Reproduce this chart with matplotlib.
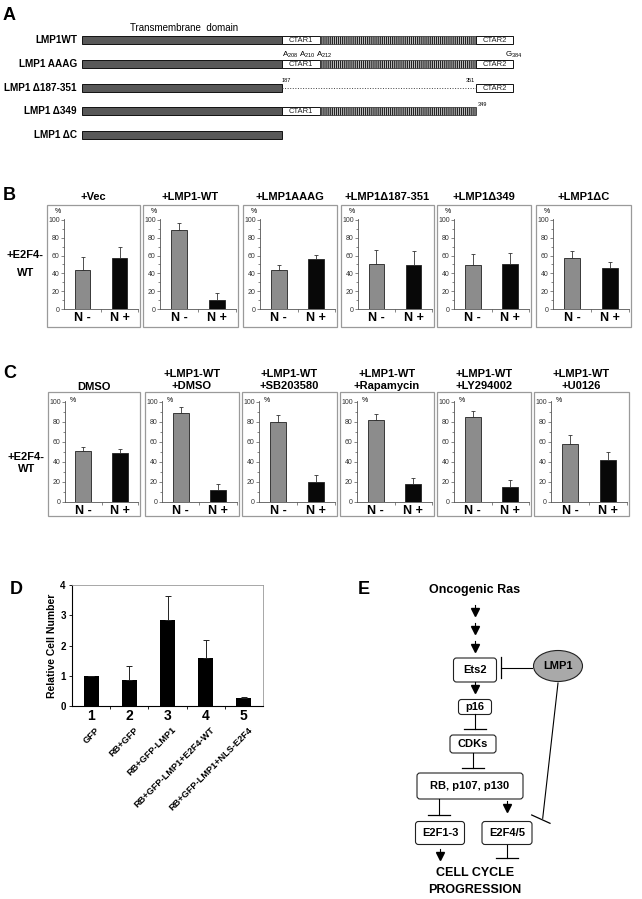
import numpy as np
import matplotlib.pyplot as plt
from matplotlib.patches import Rectangle, FancyBboxPatch, Ellipse

plt.rcParams['font.family'] = ['Liberation Sans', 'DejaVu Sans']
plt.rcParams['mathtext.default'] = 'regular'
plt.rcParams['hatch.linewidth'] = 1.0

W, H = 642, 899

#%% DATA
# panel A : constructs and their domains (schematic units from start of bar)
constructs = ['LMP1WT', 'LMP1 AAAG', 'LMP1 \u0394187-351', 'LMP1 \u0394349', 'LMP1 \u0394C']
full = [(0, 200, 'tm'), (200, 238, 'CTAR1'), (238, 394, 'hatch'), (394, 431, 'CTAR2')]
domains = [
    full,
    full,
    [(0, 200, 'tm'), (200, 394, 'gap'), (394, 431, 'CTAR2')],
    [(0, 200, 'tm'), (200, 238, 'CTAR1'), (238, 394, 'hatch')],
    [(0, 200, 'tm')],
]
mut_labels = ['A$_{208}$', 'A$_{210}$', 'A$_{212}$', 'G$_{384}$']

# panel B : % cells, N- / N+
b_titles = ['+Vec', '+LMP1-WT', '+LMP1AAAG', '+LMP1\u0394187-351', '+LMP1\u0394349', '+LMP1\u0394C']
b_vals = [[44, 57], [89, 10], [44, 56], [51, 49], [49, 50], [57, 46]]
b_errs = [[14, 13], [8, 8], [5, 5], [15, 16], [13, 13], [8, 7]]

# panel C
c_titles = ['DMSO', '+LMP1-WT\n+DMSO', '+LMP1-WT\n+SB203580', '+LMP1-WT\n+Rapamycin',
            '+LMP1-WT\n+LY294002', '+LMP1-WT\n+U0126']
c_vals = [[51, 49], [89, 12], [80, 20], [82, 18], [85, 15], [58, 42]]
c_errs = [[4, 4], [6, 6], [7, 7], [6, 6], [6, 7], [9, 8]]

groups = ['N -', 'N +']

# panel D
d_num = ['1', '2', '3', '4', '5']
d_names = ['GFP', 'RB+GFP', 'RB+GFP-LMP1', 'RB+GFP-LMP1+E2F4-WT', 'RB+GFP-LMP1+NLS-E2F4']
d_vals = [1.0, 0.85, 2.85, 1.6, 0.25]
d_errs = [0, 0.48, 0.8, 0.57, 0.05]


def rect(x0, y0, x1, y1):
    return [x0 / W, 1 - y1 / H, (x1 - x0) / W, (y1 - y0) / H]


fig = plt.figure(figsize=(W / 100, H / 100), dpi=100)
ov = fig.add_axes([0, 0, 1, 1])
ov.set_xlim(0, W)
ov.set_ylim(H, 0)
ov.axis('off')

#%% PANEL A
ov.text(3, 15, 'A', fontsize=13, fontweight='bold', va='center')
ov.text(130, 28, 'Transmembrane  domain', fontsize=7, va='center')
x0 = 82
for i, (name, segs) in enumerate(zip(constructs, domains)):
    y = 40 + 23.8 * i
    ov.text(77, y, name, ha='right', va='center', fontsize=7.2, fontweight='bold')
    for s, e, kind in segs:
        if kind == 'tm':
            ov.add_patch(Rectangle((x0 + s, y - 4), e - s, 8, fc='#585858', ec='#111', lw=0.7))
        elif kind == 'hatch':
            ov.add_patch(Rectangle((x0 + s, y - 4), e - s, 8, fc='white', ec='#222',
                                   lw=0.5, hatch='||||||||'))
        elif kind == 'gap':
            ov.plot([x0 + s, x0 + e], [y, y], ls=':', lw=0.7, color='#444')
        else:
            ov.add_patch(Rectangle((x0 + s, y - 4), e - s, 8, fc='white', ec='#111', lw=0.7))
            ov.text(x0 + (s + e) / 2, y + 0.5, kind, ha='center', va='center', fontsize=5.5,
                    color='#222')
# point mutations and deletion ends
for xm, lab in zip([282, 299, 316, 505], mut_labels):
    ov.text(xm, 57, lab, fontsize=5.8, va='baseline')
ov.text(282, 82, '187', fontsize=4, va='baseline')
ov.text(466, 82, '351', fontsize=4, va='baseline')
ov.text(478, 106, '349', fontsize=4, va='baseline')


#%% PANELS B, C
def bar_panel(box, ax_rect, title, title_y, vals, errs, pct_inside):
    bx0, by0, bx1, by1 = box
    ov.add_patch(Rectangle((bx0, by0), bx1 - bx0, by1 - by0, fill=False, ec='#9a9a9a', lw=0.9))
    ov.text((bx0 + bx1) / 2, title_y, title, ha='center', va='center', fontsize=8,
            fontweight='bold', linespacing=1.3)
    ax = fig.add_axes(rect(*ax_rect))
    ax.patch.set_alpha(0)
    ax.bar([0, 1], vals, width=0.43, color=['#8c8c8c', '#080808'], edgecolor='#222', lw=0.6,
           yerr=[[0, 0], errs], error_kw=dict(ecolor='#333', elinewidth=0.6, capsize=1.5,
                                              capthick=0.6))
    ax.set_xlim(-0.5, 1.5)
    ax.set_ylim(0, 101)
    ax.set_yticks(range(0, 101, 20))
    ax.set_yticks(range(10, 100, 20), minor=True)
    ax.set_xticks([0, 1], groups)
    ax.set_xticks([0.5, 1.5], minor=True)
    for t in ax.get_xticklabels():
        t.set_fontweight('bold')
    ax.tick_params(axis='x', which='major', length=0, labelsize=9, pad=2.5)
    ax.tick_params(axis='x', which='minor', length=2, width=0.5, color='#555')
    ax.tick_params(axis='y', which='both', length=2, width=0.5, color='#555', labelsize=5,
                   labelcolor='#333', pad=1)
    ax.tick_params(axis='y', which='minor', length=1.5)
    for sp in ['top', 'right']:
        ax.spines[sp].set_visible(False)
    for sp in ['left', 'bottom']:
        ax.spines[sp].set_color('#555')
        ax.spines[sp].set_linewidth(0.6)
    if pct_inside:
        ax.text(0.06, 1.0, '%', transform=ax.transAxes, fontsize=5, va='center')
    else:
        ax.text(-0.12, 1.08, '%', transform=ax.transAxes, fontsize=5, va='center')
    return ax


ov.text(3, 196, 'B', fontsize=13, fontweight='bold', va='center')
ov.text(25, 255, '+E2F4-', fontsize=8, fontweight='bold', ha='center', va='center')
ov.text(26, 273, 'WT', fontsize=8, fontweight='bold', ha='center', va='center')
b_left = [47, 143, 243, 341, 437, 536]
b_right = [140, 238, 337, 434, 531, 631]
for i in range(6):
    bar_panel((b_left[i], 205, b_right[i], 327), (b_left[i] + 17, 219, b_right[i] - 2, 309),
              b_titles[i], 197, b_vals[i], b_errs[i], False)

ov.text(3, 374, 'C', fontsize=13, fontweight='bold', va='center')
ov.text(26, 457, '+E2F4-', fontsize=8, fontweight='bold', ha='center', va='center')
ov.text(27, 469, 'WT', fontsize=8, fontweight='bold', ha='center', va='center')
c_left = [48, 145, 242, 340, 437, 534]
c_right = [140, 239, 337, 434, 531, 629]
for i in range(6):
    ty = 387 if '\n' not in c_titles[i] else 380
    bar_panel((c_left[i], 392, c_right[i], 516), (c_left[i] + 17, 401, c_right[i] - 2, 502),
              c_titles[i], ty, c_vals[i], c_errs[i], True)

#%% PANEL D
ov.text(10, 590, 'D', fontsize=13, fontweight='bold', va='center')
axd = fig.add_axes(rect(72, 585, 263, 706))
xd = np.arange(1, 6)
axd.bar(xd, d_vals, width=0.39, color='black', yerr=[np.zeros(5), d_errs],
        error_kw=dict(ecolor='#222', elinewidth=0.7, capsize=2, capthick=0.7))
axd.set_xlim(0.5, 5.5)
axd.set_ylim(0, 4)
axd.set_yticks(range(5))
axd.set_xticks(xd, d_num)
axd.set_xticks(np.arange(1.5, 5.5, 1), minor=True)
for t in axd.get_xticklabels() + axd.get_yticklabels():
    t.set_fontweight('bold')
axd.tick_params(axis='x', which='major', length=0, labelsize=10, pad=2)
axd.tick_params(axis='x', which='minor', length=2.5, width=0.6)
axd.tick_params(axis='y', length=2.5, width=0.6, labelsize=7, pad=2)
axd.set_ylabel('Relative Cell Number', fontsize=7.5, fontweight='bold', labelpad=2)
for sp in ['top', 'right']:
    axd.spines[sp].set_color('#999')
    axd.spines[sp].set_linewidth(0.6)
for sp in ['left', 'bottom']:
    axd.spines[sp].set_linewidth(0.8)
for x, name in zip(xd, d_names):
    axd.annotate(name, xy=(x, 0), xycoords=('data', 'axes fraction'), xytext=(3, -14),
                 textcoords='offset points', rotation=45, ha='right', va='top',
                 rotation_mode='anchor', fontsize=6.6, fontweight='bold')

#%% PANEL E
ov.text(358, 590, 'E', fontsize=13, fontweight='bold', va='center')
ov.text(475, 590, 'Oncogenic Ras', ha='center', va='center', fontsize=9, fontweight='bold')


def node(cx, cy, w, h, label):
    ov.add_patch(FancyBboxPatch((cx - w / 2, cy - h / 2), w, h,
                                boxstyle='round,pad=0,rounding_size=3',
                                fc='white', ec='#222', lw=0.8))
    ov.text(cx, cy, label, ha='center', va='center', fontsize=8, fontweight='bold')


def arrow(x, y):
    ov.plot([x, x], [y - 7, y - 2], color='black', lw=0.8)
    ov.plot(x, y, marker='v', ms=5.5, color='black', mec='black')


def tbar(x, y0, y1, half):
    ov.plot([x, x], [y0, y1], color='black', lw=0.8)
    ov.plot([x - half, x + half], [y1, y1], color='black', lw=0.9)


arrow(475, 612)
arrow(475, 630)
arrow(475, 648)
node(475, 670, 43, 24, 'Ets2')
ov.plot([501, 501], [657, 678], color='black', lw=0.9)
ov.plot([501, 532], [668, 668], color='black', lw=0.8)
ov.add_patch(Ellipse((558, 666), 49, 31, fc='#a9a9a9', ec='#222', lw=0.8))
ov.text(558, 666, 'LMP1', ha='center', va='center', fontsize=8, fontweight='bold')
arrow(475, 689)
node(475, 707, 33, 15, 'p16')
tbar(475, 714, 729, 11)
node(473, 744, 46, 18, 'CDKs')
tbar(473, 753, 768, 11)
node(470, 786, 106, 26, 'RB, p107, p130')
tbar(439, 799, 815, 11)
arrow(507, 808)
node(440, 833, 49, 23, 'E2F1-3')
node(507, 833, 50, 23, 'E2F4/5')
ov.plot([558, 542.7], [683, 818.3], color='black', lw=0.8)
ov.plot([531.7, 550], [815, 823.3], color='black', lw=0.9)
arrow(440, 856)
tbar(507, 845, 858, 11)
ov.text(475, 873, 'CELL CYCLE', ha='center', va='center', fontsize=9, fontweight='bold')
ov.text(475, 890, 'PROGRESSION', ha='center', va='center', fontsize=9, fontweight='bold')

fig.savefig('out.png', dpi=100)
